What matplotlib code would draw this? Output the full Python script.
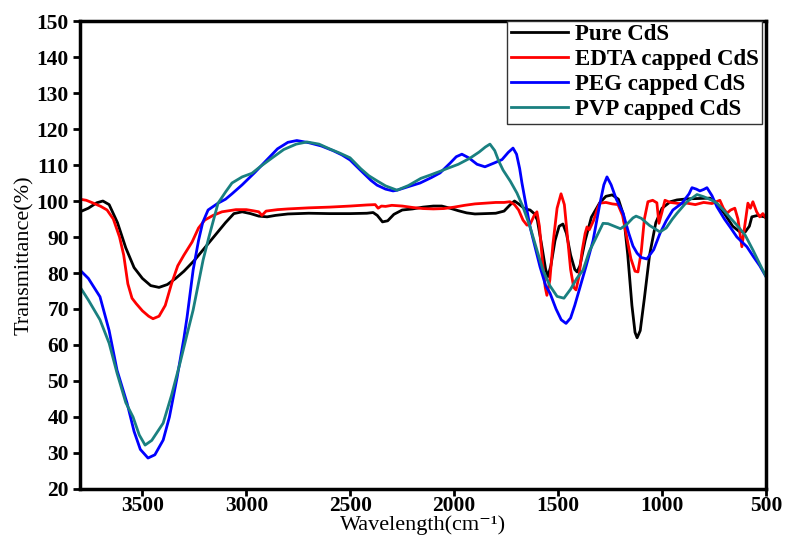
import matplotlib
matplotlib.use("Agg")
import matplotlib.pyplot as plt

# ---- data (wavenumber cm^-1, transmittance %) ----
pure_x = [3800, 3760, 3720, 3690, 3660, 3620, 3580, 3540, 3500, 3460, 3420, 3380, 3340, 3300, 3250, 3200,
          3150, 3100, 3060, 3020, 2980, 2940, 2900, 2860, 2800, 2700, 2600, 2500, 2420, 2390, 2370, 2345,
          2320, 2290, 2250, 2200, 2150, 2100, 2060, 2020, 1980, 1940, 1900, 1850, 1800, 1760, 1730, 1710,
          1690, 1660, 1635, 1615, 1600, 1580, 1560, 1549, 1535, 1515, 1495, 1477, 1460, 1440, 1420, 1409,
          1395, 1370, 1340, 1300, 1270, 1240, 1210, 1185, 1165, 1145, 1130, 1120, 1105, 1085, 1060, 1030,
          1000, 960, 928, 880, 820, 770, 740, 700, 660, 630, 600, 580, 568, 540, 500]
pure_y = [97.0, 98.0, 99.5, 100.0, 99.0, 94, 87, 81.5, 78.5, 76.5, 76.0, 76.8, 78.5, 80.5, 83.5, 87,
          90.5, 94, 96.5, 97.0, 96.5, 95.8, 95.6, 96.0, 96.4, 96.6, 96.5, 96.5, 96.6, 96.8, 96.0, 94.2,
          94.5, 96.3, 97.5, 97.8, 98.3, 98.6, 98.6, 98.0, 97.3, 96.7, 96.4, 96.5, 96.6, 97.2, 99.0, 100.0,
          99.2, 97.8, 97.5, 96.5, 94.7, 88, 81, 79, 82, 89, 93, 93.6, 91, 85, 81, 80.3,
          82, 89, 95.5, 99.5, 101.3, 101.7, 100.5, 96, 85, 71, 63.5, 62, 64, 73, 85, 94,
          98, 99.8, 100.3, 100.6, 100.7, 100.8, 99.5, 96.5, 93, 91.6, 91.4, 93, 95.6, 96.0, 95.5]

edta_x = [3800, 3770, 3740, 3700, 3670, 3640, 3610, 3590, 3570, 3550, 3530, 3500, 3470, 3449, 3420, 3390,
          3360, 3330, 3300, 3261, 3230, 3200, 3160, 3117, 3050, 3000, 2968, 2940, 2925, 2905, 2850, 2800,
          2700, 2600, 2500, 2420, 2380, 2366, 2350, 2330, 2300, 2250, 2200, 2150, 2100, 2050, 2000, 1950,
          1900, 1850, 1800, 1760, 1732, 1710, 1690, 1669, 1650, 1635, 1615, 1602, 1590, 1575, 1562, 1554,
          1540, 1525, 1505, 1486, 1470, 1455, 1440, 1425, 1414, 1400, 1385, 1370, 1361, 1350, 1330, 1310,
          1299, 1270, 1240, 1212, 1190, 1170, 1150, 1130, 1116, 1100, 1085, 1068, 1045, 1025, 1015, 1000,
          986, 960, 920, 880, 840, 800, 760, 722, 705, 688, 670, 650, 635, 616, 600, 587, 575, 563, 545,
          530, 515, 500]
edta_y = [100.5, 100.2, 99.5, 98.5, 97.5, 95, 90, 85, 77, 73, 71.5, 69.5, 68, 67.3, 68, 71,
          77, 82, 85, 88.6, 92.5, 94.7, 96, 97, 97.6, 97.6, 97.3, 97, 96, 97.2, 97.6, 97.8,
          98.1, 98.3, 98.6, 98.9, 99.0, 98.0, 98.6, 98.5, 98.8, 98.6, 98.2, 97.9, 97.8, 97.9, 98.3, 98.8,
          99.2, 99.4, 99.6, 99.6, 99.8, 99.0, 97.5, 94.7, 93.3, 93.5, 96.0, 97.0, 93, 83, 76, 73.8,
          78, 88, 98, 102, 99, 90, 81, 76, 75.3, 79, 86, 91, 92.8, 92, 94.5, 98,
          99.4, 99.6, 99.2, 99.0, 96, 90, 84, 80.5, 80.3, 86, 95, 99.8, 100.2, 99.5, 93.8, 97,
          100.2, 99.6, 99.3, 99.4, 99.0, 99.6, 99.3, 100.2, 98, 96.6, 97.5, 98, 95, 87.3, 94, 99.4, 98, 99.8, 97,
          95.6, 96.5, 95.2]

peg_x = [3800, 3760, 3704, 3660, 3622, 3574, 3540, 3510, 3473, 3440, 3400, 3370, 3333, 3300, 3285, 3256,
         3230, 3210, 3184, 3136, 3100, 3069, 3020, 2958, 2900, 2850, 2800, 2757, 2700, 2640, 2583, 2540,
         2501, 2450, 2400, 2371, 2330, 2294, 2275, 2220, 2164, 2110, 2068, 2020, 1990, 1963, 1930, 1890,
         1852, 1810, 1770, 1740, 1717, 1700, 1685, 1674, 1655, 1635, 1610, 1587, 1560, 1539, 1510, 1485,
         1462, 1440, 1420, 1395, 1365, 1332, 1300, 1280, 1265, 1245, 1220, 1188, 1160, 1140, 1120, 1100,
         1073, 1040, 1010, 980, 948, 904, 870, 856, 835, 818, 800, 784, 760, 736, 700, 673, 640, 592,
         560, 530, 500]
peg_y = [80.8, 78.5, 73.4, 64, 53, 43.9, 36, 31, 28.6, 29.5, 33.6, 40, 51, 62, 67.8, 80.8,
         89, 94, 97.5, 99.4, 100.5, 102, 104.5, 108, 111.5, 114.5, 116.3, 116.8, 116.2, 115.3, 114, 112.8,
         111.4, 108.5, 105.7, 104.4, 103.3, 102.8, 103, 104, 105, 106.5, 107.8, 110.5, 112.3, 113, 112, 110.2,
         109.5, 110.5, 111.5, 113.5, 114.7, 113, 109, 105, 99, 92.8, 87, 81.7, 76.5, 74.4, 70, 67,
         66, 67.5, 71, 76, 82, 89, 99, 104.5, 106.7, 104.5, 100.5, 96.7, 91, 87.5, 85.5, 84.3,
         83.9, 86.5, 91, 94.5, 97.5, 99.4, 102, 103.7, 103.3, 102.8, 103.2, 103.7, 101.5, 98.4, 95, 92.8, 90, 87.3,
         84.5, 82, 79]

pvp_x = [3800, 3760, 3704, 3660, 3622, 3580, 3545, 3515, 3487, 3455, 3400, 3360, 3319, 3285, 3256, 3208,
         3180, 3136, 3100, 3069, 3020, 2973, 2934, 2880, 2820, 2760, 2708, 2650, 2600, 2550, 2501, 2450,
         2410, 2371, 2330, 2275, 2220, 2160, 2116, 2070, 2035, 1980, 1924, 1880, 1850, 1828, 1805, 1785,
         1765, 1730, 1698, 1670, 1635, 1600, 1573, 1540, 1505, 1472, 1440, 1410, 1380, 1350, 1320, 1284,
         1260, 1230, 1200, 1170, 1140, 1125, 1100, 1060, 1010, 980, 950, 928, 880, 832, 800, 760,
         736, 700, 670, 640, 600, 563, 530, 500]
pvp_y = [76.1, 72.5, 67, 60.5, 52.2, 44, 40, 35, 32.2, 33.5, 38.3, 46, 55, 63, 69.7, 83.6,
         90, 99.4, 102.5, 105, 106.7, 107.7, 109.5, 111.8, 114.3, 115.8, 116.4, 115.8, 114.5, 113.3, 112, 109,
         107, 105.6, 104.2, 103, 104.3, 106.3, 107.2, 108.2, 109, 110.2, 111.9, 113.6, 115, 115.8, 114, 111,
         108.6, 105.5, 102.2, 98.5, 92.8, 86, 80.8, 76.5, 73.5, 73, 75.5, 78.5, 80.8, 86, 89.5, 93.8,
         93.7, 93.0, 92.3, 93.5, 95.3, 95.8, 95.2, 93.2, 91.4, 92.5, 95, 96.6, 99.8, 101.8, 101.2, 100.2,
         99.4, 97.2, 95.2, 93.3, 90.5, 86.4, 82.5, 79]

labels = ["Pure CdS", "EDTA capped CdS", "PEG capped CdS", "PVP capped CdS"]
colors = ["#000000", "#ff0000", "#0000ff", "#1a8080"]

x_ticks = [3500, 3000, 2500, 2000, 1500, 1000, 500]
y_ticks = list(range(20, 151, 10))

plt.rcParams['font.family'] = ['Liberation Serif', 'DejaVu Serif']

fig = plt.figure(figsize=(7.87, 5.36), dpi=100)
ax = fig.add_axes([0.1017, 0.0877, 0.8716, 0.8731])

series = [(pure_x, pure_y), (edta_x, edta_y), (peg_x, peg_y), (pvp_x, pvp_y)]
for (xs, ys), lab, c in zip(series, labels, colors):
    ax.plot(xs, ys, color=c, lw=2.0, label=lab)

ax.set_xlim(3800, 500)
ax.set_ylim(20, 150)
ax.set_xticks(x_ticks)
ax.set_yticks(y_ticks)
ax.tick_params(direction='out', length=5, width=2, labelsize=15.5)
ax.tick_params(axis='x', pad=0)
ax.tick_params(axis='y', pad=3)
for t in ax.get_xticklabels() + ax.get_yticklabels():
    t.set_fontweight('bold')
for s in ax.spines.values():
    s.set_linewidth(2.5)

ax.set_ylabel("Transmittance(%)", fontsize=16, labelpad=2)
ax.set_xlabel("Wavelength(cm\u207b\u00b9)", fontsize=16, va='bottom')
ax.xaxis.set_label_coords(0.5, -0.0985)

leg = ax.legend(loc='upper right', bbox_to_anchor=(0.9945, 1.0), prop={'weight': 'bold', 'size': 16.5},
                frameon=True, fancybox=False, edgecolor='#333333', framealpha=1,
                borderaxespad=0.0, labelspacing=0.17, handlelength=2.5, handletextpad=0.3,
                borderpad=0.15)
leg.get_frame().set_linewidth(1.0)

fig.savefig("out.png", dpi=100)
